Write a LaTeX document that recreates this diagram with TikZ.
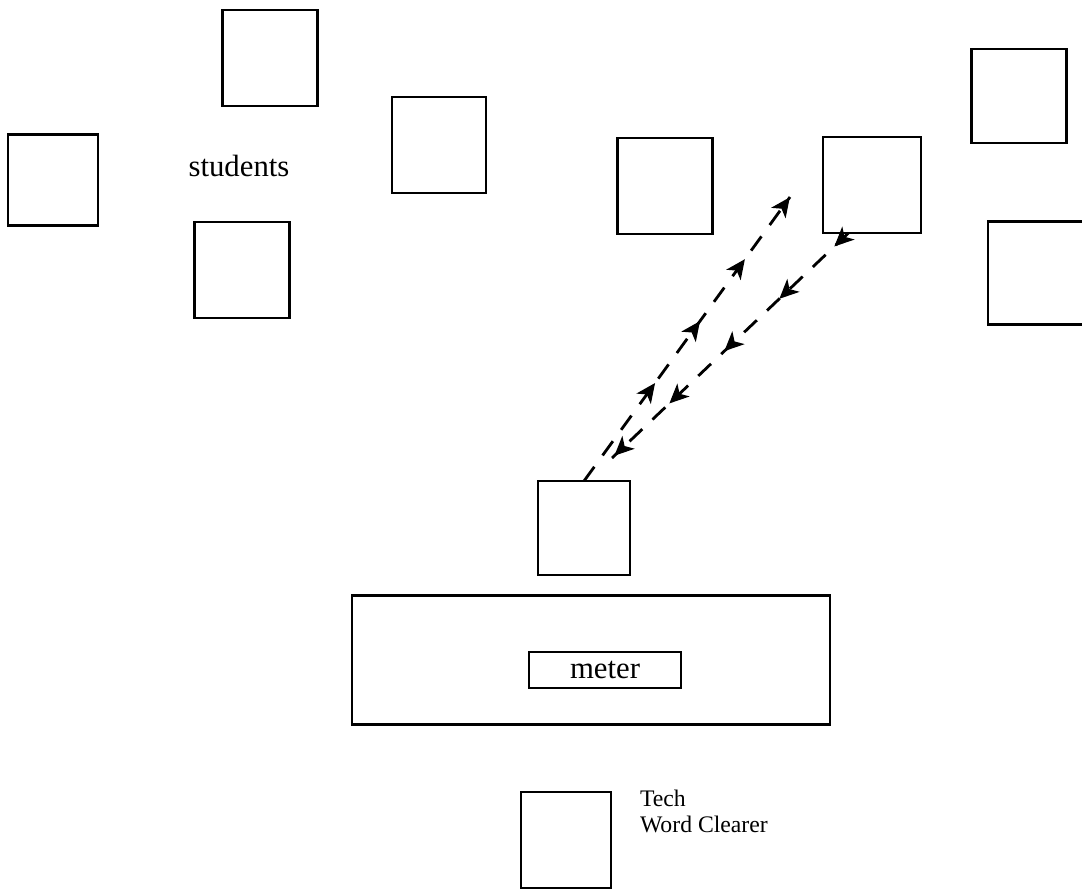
\documentclass[tikz,border=0pt]{standalone}
\usepackage{fontspec}
\setmainfont{Liberation Serif}
\usetikzlibrary{arrows.meta,positioning,calc,decorations.markings}

\begin{document}
\begin{tikzpicture}[x=0.02cm, y=-0.02cm, >=Stealth,
  every node/.style={inner sep=0pt, outer sep=0pt},
  seat/.style={draw, line width=1.4pt, minimum width=1.9cm, minimum height=1.92cm},
  talk/.style={line width=1.6pt, dash pattern=on 10pt off 8pt},
  heads/.style 2 args={postaction={decorate, decoration={markings,
      mark=between positions #1 and 1 step #2 with {\arrow{Stealth[length=11pt,width=10pt,inset=3pt]}}}}}]
\useasboundingbox (0,0) rectangle (1082,893);

% students
\node[seat] (s1) at (270,58) {};
\node[seat, minimum width=1.8cm, minimum height=1.82cm] (s2) at (53,180) {};
\node[seat, minimum width=1.88cm] (s3) at (439,145) {};
\node[seat] (s4) at (242,270) {};
\node[seat] (s5) at (665,186) {};
\node[seat, minimum width=1.96cm] (s6) at (872,185) {};
\node[seat, minimum height=1.88cm] (s7) at (1019,96) {};
\node[seat, minimum width=2cm, minimum height=2.06cm] (s8) at (1038,273) {};
\node[font=\fontsize{17.5}{21}\selectfont] (students) at (239,166) {students};

% teacher side
\node[seat, minimum width=1.84cm, minimum height=1.88cm] (front) at (584,528) {};
\node[draw, line width=1.4pt, minimum width=9.56cm, minimum height=2.58cm] (desk) at (591,660) {};
\node[draw, line width=1.4pt, minimum width=3.04cm, minimum height=0.72cm,
      font=\fontsize{17.5}{21}\selectfont] (meter) at (605,670) {meter};
\node[seat, minimum width=1.8cm] (tech) at (566,840) {};
\node[anchor=north west, align=left, font=\fontsize{13.5}{14.7}\selectfont] (techname) at (640,790) {Tech\\Word Clearer};

% exchange
\coordinate (upend) at (790,197);
\coordinate (downend) at (612,458);
\draw[talk, heads={0.345}{0.218}] (front.north) -- (upend);
\draw[talk, heads={0.06}{0.2325}] ($(s6.south west)!0.26!(s6.south east)$) -- (downend);
\end{tikzpicture}
\end{document}
